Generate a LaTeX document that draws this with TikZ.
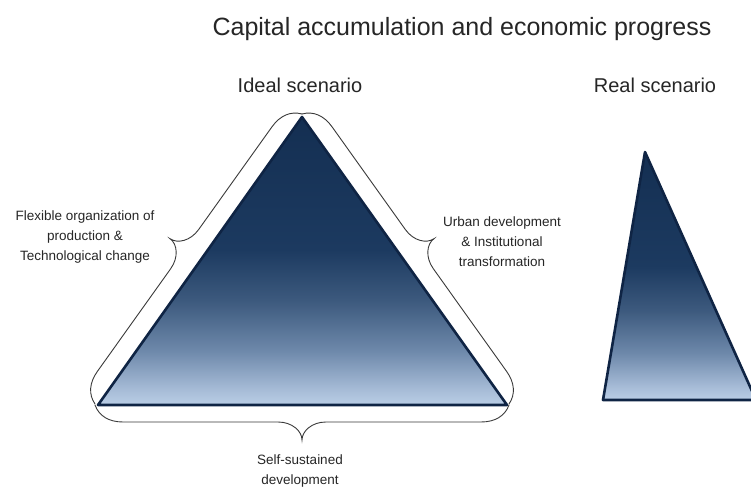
\documentclass[tikz,border=0pt]{standalone}
\usepackage{fontspec}
\setmainfont{Liberation Sans}
\usetikzlibrary{calc}
\definecolor{navy}{HTML}{0F2444}
\definecolor{gtop}{HTML}{142F52}
\definecolor{gmid}{HTML}{1C3A60}
\definecolor{gmid2}{HTML}{3D5A7E}
\definecolor{gmid3}{HTML}{6D88AA}
\definecolor{gmid4}{HTML}{A8BDD8}
\definecolor{gbot}{HTML}{BACEE6}
\definecolor{bracec}{HTML}{3A3A3A}
\pgfdeclareverticalshading{trishade}{100bp}{color(0bp)=(gbot); color(25bp)=(gbot); color(27.5bp)=(gmid4); color(34.5bp)=(gmid3); color(43bp)=(gmid2); color(52bp)=(gmid); color(75bp)=(gtop); color(100bp)=(gtop)}
\newcommand\mybrace[2]{%
\draw[bracestyle] (#1)
 .. controls ($(#1)!4pt!(#2)!11pt!90:(#2)$) and ($(#1)!14pt!(#2)!17pt!90:(#2)$) .. ($(#1)!28pt!(#2)!17pt!90:(#2)$)
 -- ($(#1)!0.5!(#2)!-24pt!(#2)!17pt!90:(#2)$)
 .. controls ($(#1)!0.5!(#2)!-10pt!(#2)!17pt!90:(#2)$) and ($(#1)!0.5!(#2)!26pt!90:(#2)$) .. ($(#1)!0.5!(#2)!35pt!90:(#2)$)
 .. controls ($(#1)!0.5!(#2)!26pt!90:(#2)$) and ($(#1)!0.5!(#2)!10pt!(#2)!17pt!90:(#2)$) .. ($(#1)!0.5!(#2)!24pt!(#2)!17pt!90:(#2)$)
 -- ($(#2)!28pt!(#1)!17pt!-90:(#1)$)
 .. controls ($(#2)!14pt!(#1)!17pt!-90:(#1)$) and ($(#2)!4pt!(#1)!11pt!-90:(#1)$) .. (#2);}
\begin{document}
\begin{tikzpicture}[x=1pt,y=-1pt,
  bracestyle/.style={draw=bracec,line width=0.9pt,line cap=round},
  tri/.style={draw=navy,line width=2.6pt,line join=round,shading=trishade},
  lbl/.style={align=center,font=\fontsize{13.5}{20}\selectfont,text=black!85,inner sep=0pt},
  head/.style={font=\fontsize{20}{24}\selectfont,text=black!85,inner sep=0pt,anchor=base}]
\clip (0,0) rectangle (751,489);
\fill[white] (0,0) rectangle (751,489);
% ideal triangle
\coordinate (A) at (302,117);
\coordinate (B) at (98,405);
\coordinate (C) at (507,405);
\path[tri] (A) -- (B) -- (C) -- cycle;
% real triangle
\coordinate (RA) at (645,152);
\coordinate (RB) at (603,400);
\coordinate (RC) at (756,400);
\path[tri] (RA) -- (RB) -- (RC) -- cycle;
% braces
\coordinate (bA) at (302,114);
\coordinate (bB) at (95,404);
\coordinate (bC) at (509,404);
\coordinate (bB2) at (95,405);
\coordinate (bC2) at (509,405);
\mybrace{bB}{bA}
\mybrace{bA}{bC}
\mybrace{bC2}{bB2}
% texts
\node[font=\fontsize{25}{30}\selectfont,text=black!85,inner sep=0pt,anchor=base] (title) at (462,36) {Capital accumulation and economic progress};
\node[head] (ideal) at (300,93) {Ideal scenario};
\node[head] (real) at (655,93) {Real scenario};
\node[lbl] (left) at (85,237) {Flexible organization of\\production \&\\Technological change};
\node[lbl] (right) at (502,242) {Urban development\\\& Institutional\\transformation};
\node[lbl] (bottom) at (300,471) {Self-sustained\\development};
\end{tikzpicture}
\end{document}
